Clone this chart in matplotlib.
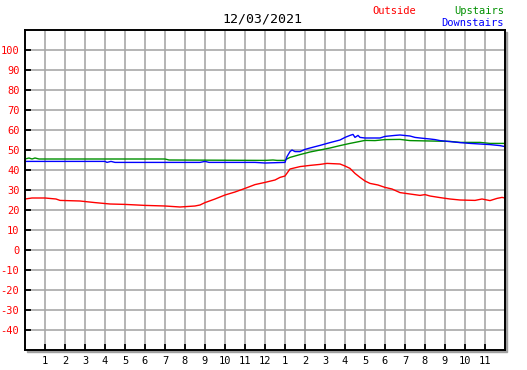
"""Daily temperature chart: outside / upstairs / downstairs for 12/03/2021."""

import matplotlib
matplotlib.use("Agg")
import matplotlib.pyplot as plt
from matplotlib.patches import Rectangle

TITLE = "12/03/2021"

# hours since midnight -> temperature
outside_h = [0, 0.35, 1, 1.55, 1.75, 2.75, 3.5, 4.25, 5, 6, 7, 7.75, 8.5, 8.75,
             9, 9.5, 10, 10.5, 11, 11.5, 12, 12.5, 12.75, 13, 13.25, 13.75,
             14.25, 14.75, 15.1, 15.75, 16, 16.25, 16.5, 16.75, 17, 17.25,
             17.65, 18, 18.35, 18.75, 19.25, 19.75, 20, 20.25, 20.75, 21.25,
             21.75, 22.5, 22.85, 23.25, 23.6, 23.85, 24]
outside_t = [25.5, 26, 26, 25.5, 24.8, 24.5, 23.7, 23, 22.8, 22.3, 22, 21.5,
             22, 22.5, 23.7, 25.5, 27.5, 29, 30.8, 32.7, 33.8, 35, 36.3, 37,
             40.5, 41.7, 42.3, 42.8, 43.3, 43, 42, 40.8, 38.3, 36.3, 34.5,
             33.3, 32.5, 31.3, 30.5, 28.7, 28, 27.3, 27.7, 27, 26.2, 25.5, 25,
             24.8, 25.5, 24.7, 25.8, 26.3, 26]

up_h = [0, 0.2, 0.35, 0.5, 0.7, 1, 7, 7.2, 12, 12.4, 12.6, 13, 13.05, 13.25,
        13.75, 14.25, 14.75, 15.25, 15.75, 16.25, 16.75, 17, 17.5, 18, 18.75,
        19.25, 20.25, 21.25, 21.75, 22.75, 23.25, 24]
up_t = [45.5, 46, 45.5, 46, 45.5, 45.5, 45.5, 45, 44.8, 45, 44.8, 44.8, 45.3,
        46.3, 47.7, 49, 50, 51, 52.2, 53.3, 54.3, 54.8, 54.7, 55.2, 55.3, 54.7,
        54.5, 54.3, 53.8, 53.8, 53.3, 53.3]

down_h = [0, 4, 4.1, 4.3, 4.5, 8.75, 9, 9.2, 11.5, 12, 13, 13.1, 13.25, 13.35,
          13.5, 13.75, 14, 14.25, 14.75, 15.25, 15.75, 16, 16.25, 16.4, 16.5,
          16.65, 16.75, 17, 17.75, 18, 18.5, 18.75, 19.25, 19.5, 19.75, 20.25,
          20.5, 20.75, 21.25, 21.75, 22.25, 22.75, 23.25, 23.75, 24]
down_t = [44.3, 44.3, 43.8, 44.3, 43.8, 43.8, 44.3, 43.8, 43.8, 43.5, 43.8,
          46.7, 49.2, 50, 49.2, 49.2, 50.3, 51, 52.3, 53.7, 55, 56.3, 57.3,
          57.8, 56.3, 57.3, 56.3, 56, 56, 56.8, 57.3, 57.5, 57, 56.3, 56, 55.5,
          55.2, 54.7, 54.2, 53.7, 53.3, 53, 52.7, 52.2, 51.7]

x_ticks = list(range(1, 24))
x_labels = [str(h) for h in range(1, 13)] + [str(h) for h in range(1, 12)]
y_ticks = list(range(-40, 101, 10))

RED, GREEN, BLUE = "#ff0000", "#009000", "#0000ff"
MONO = "DejaVu Sans Mono"

W, H = 527, 370
fig = plt.figure(figsize=(W / 100, H / 100), dpi=100)
ax_rect = [25 / W, (H - 350) / H, 480 / W, 320 / H]

# drop shadow right / bottom
fig.patches.append(Rectangle((27 / W, (H - 352) / H), 480 / W, 320 / H,
                             transform=fig.transFigure, color="#a0a0a0",
                             zorder=0))
ax = fig.add_axes(ax_rect, zorder=1)
ax.set_facecolor("white")

ax.plot(outside_h, outside_t, color=RED, lw=1.0)
ax.plot(up_h, up_t, color=GREEN, lw=1.0)
ax.plot(down_h, down_t, color=BLUE, lw=1.0)

ax.set_xlim(0, 24)
ax.set_ylim(-50, 110)
ax.set_xticks(x_ticks)
ax.set_xticklabels(x_labels, fontfamily=MONO, fontsize=7.5)
ax.set_yticks(y_ticks)
ax.set_yticklabels([str(v) for v in y_ticks], fontfamily=MONO, fontsize=7.5,
                   color=RED)
ax.tick_params(direction="in", length=4, width=1.3, color="black", pad=4)
ax.grid(True, color="#a8a8a8", lw=1.2)
ax.set_axisbelow(True)
for s in ax.spines.values():
    s.set_linewidth(1.4)
    s.set_color("black")

fig.text(262 / W, 1 - 19 / H, TITLE, ha="center", va="center",
         fontfamily=MONO, fontsize=9.5)
fig.text(372 / W, 1 - 11 / H, "Outside", ha="left", va="center",
         fontfamily=MONO, fontsize=7.5, color=RED)
fig.text(504 / W, 1 - 11 / H, "Upstairs", ha="right", va="center",
         fontfamily=MONO, fontsize=7.5, color=GREEN)
fig.text(504 / W, 1 - 23 / H, "Downstairs", ha="right", va="center",
         fontfamily=MONO, fontsize=7.5, color=BLUE)

fig.savefig("out.png", dpi=100, facecolor="white")
